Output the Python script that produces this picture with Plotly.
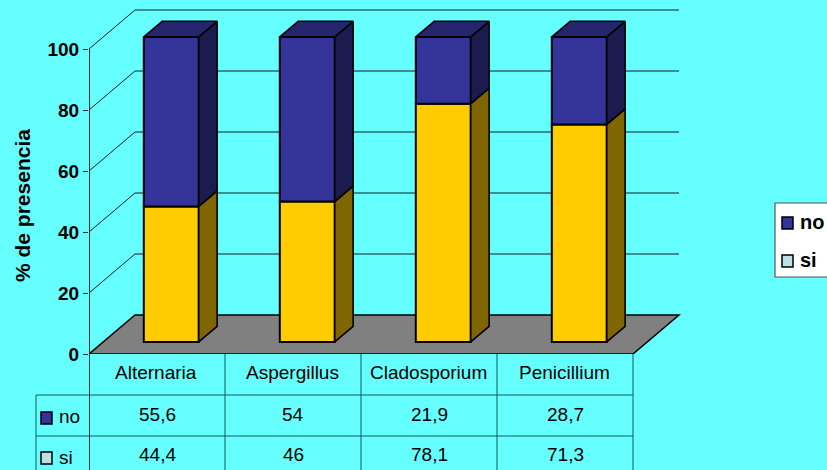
import plotly.graph_objects as go

categories = ["Alternaria", "Aspergillus", "Cladosporium", "Penicillium"]
no_values = [55.6, 54, 21.9, 28.7]
si_values = [44.4, 46, 78.1, 71.3]
y_ticks = [0, 20, 40, 60, 80, 100]

W, H = 827, 470
X0, Y0 = 89, 354          # front-left floor corner, px
CAT_PX, Y_PX = 136, 3.05
DEPTH_X, DEPTH_Y = 46 / CAT_PX, 39 / Y_PX  # full depth of the floor in axis units
BAR_W, D1, D2 = 0.404, 0.31, 0.71

BG = "#66FFFF"
BLUE, BLUE_SIDE, BLUE_TOP = "#333399", "#1B1B50", "#26266F"
YEL, YEL_SIDE = "#FFCC00", "#806600"
TXT = "#000000"
FONT = "Liberation Sans"
TABLE_LINE = "#0F5A5A"


def px(x):
    return (x - X0) / (W - X0)


def py(y):
    return (Y0 - y) / Y0


def P(x, v, d):
    return x + d * DEPTH_X, v + d * DEPTH_Y


fig = go.Figure()
centers = [i + 0.5 + D1 * DEPTH_X for i in range(4)]
base = D1 * DEPTH_Y

fig.add_trace(go.Bar(x=centers, y=si_values, base=[base] * 4, width=BAR_W,
                     marker=dict(color=YEL, line=dict(color="black", width=2)), name="si"))
fig.add_trace(go.Bar(x=centers, y=no_values, base=[base + v for v in si_values], width=BAR_W,
                     marker=dict(color=BLUE, line=dict(color="black", width=2)), name="no"))


def poly(pts, color):
    fig.add_trace(go.Scatter(x=[p[0] for p in pts] + [pts[0][0]], y=[p[1] for p in pts] + [pts[0][1]],
                             mode="lines", fill="toself", fillcolor=color,
                             line=dict(color="black", width=1.6), hoverinfo="skip", showlegend=False))


for i in range(4):
    xl = i + 0.5 - BAR_W / 2
    xr = i + 0.5 + BAR_W / 2
    s, n = si_values[i], no_values[i]
    t = s + n
    poly([P(xr, 0, D1), P(xr, 0, D2), P(xr, s, D2), P(xr, s, D1)], YEL_SIDE)
    poly([P(xr, s, D1), P(xr, s, D2), P(xr, t, D2), P(xr, t, D1)], BLUE_SIDE)
    poly([P(xl, t, D1), P(xl, t, D2), P(xr, t, D2), P(xr, t, D1)], BLUE_TOP)

shapes = []
# walls: gridlines, from the y ticks
for v in y_ticks[1:]:
    a, b, c = P(0, v, 0), P(0, v, 1), P(4, v, 1)
    shapes.append(dict(type="line", layer="below", xref="x", yref="y", x0=a[0], y0=a[1], x1=b[0], y1=b[1],
                       line=dict(color="#102020", width=1)))
    shapes.append(dict(type="line", layer="below", xref="x", yref="y", x0=b[0], y0=b[1], x1=c[0], y1=c[1],
                       line=dict(color="#102020", width=1)))
# floor
f = [P(0, 0, 0), P(0, 0, 1), P(4, 0, 1), P(4, 0, 0)]
path = "M " + " L ".join(f"{x},{y}" for x, y in f) + " Z"
shapes.append(dict(type="path", layer="below", xref="x", yref="y", path=path, fillcolor="#808080",
                   line=dict(color="black", width=1.5)))
# left vertical axis line
shapes.append(dict(type="line", xref="x", yref="y", x0=0.004, y0=0, x1=0.004, y1=100, layer="below",
                   line=dict(color="#102020", width=1)))


def hline(x0, x1, y, color=TABLE_LINE, w=1):
    shapes.append(dict(type="line", xref="paper", yref="paper", x0=px(x0), x1=px(x1), y0=py(y), y1=py(y),
                       line=dict(color=color, width=w)))


def vline(x, y0, y1, color=TABLE_LINE, w=1):
    shapes.append(dict(type="line", xref="paper", yref="paper", x0=px(x), x1=px(x), y0=py(y0), y1=py(y1),
                       line=dict(color=color, width=w)))


def rect(x0, y0, x1, y1, fill, color="black", w=1.5):
    shapes.append(dict(type="rect", xref="paper", yref="paper", x0=px(x0), x1=px(x1), y0=py(y0), y1=py(y1),
                       fillcolor=fill, line=dict(color=color, width=w)))


# data table
hline(36, 633, 395)
hline(36, 633, 436)
vline(36, 395, 470)
vline(89.5, 354, 470, "#103030")
for i in range(1, 5):
    vline(X0 + i * CAT_PX, 354, 470)

# legend box
rect(775, 203, 830, 277, "white", "#555555", 1.2)
rect(782, 217, 793, 229, BLUE)
rect(782, 255, 793, 267, "#BDE0E3")
# table keys
rect(41, 412, 52, 424, BLUE)
rect(41, 452, 52, 464, "#BDE0E3")

ann = []


def text(x, y, s, size=19, bold=False, anchor="center", angle=0):
    ann.append(dict(xref="paper", yref="paper", x=px(x), y=py(y), text=f"<b>{s}</b>" if bold else s,
                    showarrow=False, xanchor=anchor, yanchor="middle", textangle=angle,
                    font=dict(family=FONT, size=size, color=TXT)))


def fmt(v):
    return f"{v:g}".replace(".", ",")


for i, c in enumerate(categories):
    cx = X0 + (i + 0.5) * CAT_PX
    text(cx - 1, 372, c)
    text(cx, 415, fmt(no_values[i]))
    text(cx, 454, fmt(si_values[i]))
text(57, 416, "no", anchor="left")
text(57, 457, "si", anchor="left")
text(798, 222, "no", size=20, bold=True, anchor="left")
text(798, 260, "si", size=20, bold=True, anchor="left")
text(22, 206, "% de presencia", size=21, bold=True, angle=-90)

fig.update_layout(
    width=W, height=H, autosize=False,
    margin=dict(l=X0, r=0, t=0, b=H - Y0, pad=0),
    paper_bgcolor=BG, plot_bgcolor=BG,
    showlegend=False, barmode="overlay",
    shapes=shapes, annotations=ann,
    xaxis=dict(range=[0, (W - X0) / CAT_PX], showgrid=False, zeroline=False, showticklabels=False,
               ticks="", showline=False),
    yaxis=dict(range=[0, Y0 / Y_PX], tickvals=y_ticks, ticktext=[f"<b>{v}</b>" for v in y_ticks],
               showgrid=False, zeroline=False, showline=False, ticks="outside", ticklen=5, tickwidth=1,
               tickcolor="#103030", tickfont=dict(family=FONT, size=19, color=TXT)),
)
fig.write_html("out.html", config=dict(displayModeBar=False),
               post_script="document.body.style.margin='0';document.documentElement.style.overflow='hidden';")
